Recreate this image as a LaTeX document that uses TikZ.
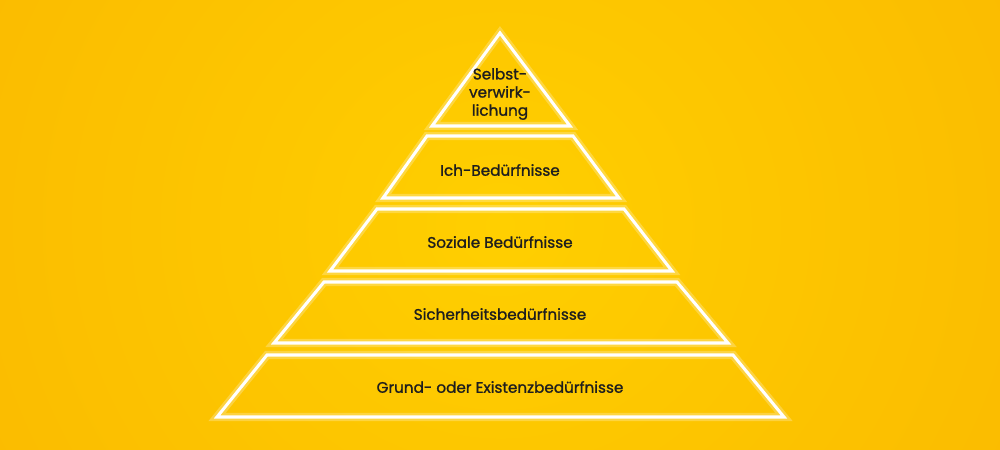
\documentclass[tikz,border=0pt]{standalone}
\usepackage{fontspec}
\setmainfont{Poppins}[FakeBold=1.2]
\definecolor{ymid}{HTML}{FFCF00}
\definecolor{yedge}{HTML}{FAB900}
\definecolor{txt}{HTML}{1E1E1E}
\begin{document}
\begin{tikzpicture}[x=0.03cm,y=-0.03cm,
  tier/.style={draw=white,line width=2.6pt,line join=miter},
  glow/.style={draw=white,opacity=0.25,line width=7pt,line join=miter},
  lbl/.style={text=txt,font=\fontsize{13}{15.5}\selectfont,align=center}]
\useasboundingbox (0,0) rectangle (1000,450);
\shade[inner color=ymid,outer color=yedge] (-150,-400) rectangle (1150,850);
\foreach \p in {{(500,33) -- (570,126) -- (432,126) -- cycle},
 {(427,136) -- (573,136) -- (619,198) -- (383,198) -- cycle},
 {(377,209) -- (624,209) -- (672,271) -- (330,271) -- cycle},
 {(324,282) -- (677,282) -- (728,343) -- (274,343) -- cycle},
 {(267,355) -- (733,355) -- (784,417) -- (217,417) -- cycle}}{
 \draw[glow] \p; \draw[tier] \p;}
\node[lbl] (t1) at (500,94) {Selbst-\\verwirk-\\lichung};
\node[lbl] (t2) at (500,170) {Ich-Bedürfnisse};
\node[lbl] (t3) at (500,242) {Soziale Bedürfnisse};
\node[lbl] (t4) at (500,314) {Sicherheitsbedürfnisse};
\node[lbl] (t5) at (500,387) {Grund- oder Existenzbedürfnisse};
\end{tikzpicture}
\end{document}
